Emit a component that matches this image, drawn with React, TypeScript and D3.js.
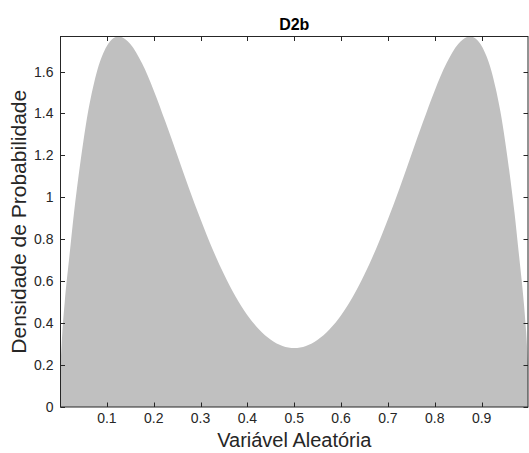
import React from "react";
import * as d3 from "d3";

const xValues = [
  0.001, 0.005, 0.01, 0.02, 0.03, 0.04, 0.05, 0.06, 0.07, 0.08, 0.09, 0.1, 0.11, 0.125, 0.14, 0.15,
  0.175, 0.2, 0.225, 0.25, 0.275, 0.3, 0.325, 0.35, 0.375, 0.4, 0.425, 0.45, 0.475, 0.5,
  0.525, 0.55, 0.575, 0.6, 0.625, 0.65, 0.675, 0.7, 0.725, 0.75, 0.775, 0.8, 0.825, 0.85,
  0.86, 0.875, 0.89, 0.9, 0.91, 0.92, 0.93, 0.94, 0.95, 0.96, 0.97, 0.98, 0.99, 0.995, 0.999,
];
const density = [
  0.2, 0.36, 0.5, 0.72, 0.93, 1.11, 1.27, 1.41, 1.52, 1.61, 1.675, 1.722, 1.752, 1.767, 1.753, 1.731,
  1.639, 1.51, 1.36, 1.203, 1.045, 0.895, 0.756, 0.633, 0.526, 0.438, 0.37, 0.321, 0.291, 0.281,
  0.291, 0.321, 0.37, 0.438, 0.526, 0.633, 0.756, 0.895, 1.045, 1.203, 1.36, 1.51, 1.639, 1.731,
  1.753, 1.767, 1.752, 1.722, 1.675, 1.61, 1.52, 1.41, 1.27, 1.11, 0.93, 0.72, 0.5, 0.36, 0.2,
];
const xTicks = [0.1, 0.2, 0.3, 0.4, 0.5, 0.6, 0.7, 0.8, 0.9];
const xTickLabels = ["0.1", "0.2", "0.3", "0.4", "0.5", "0.6", "0.7", "0.8", "0.9"];
const yTicks = [0, 0.2, 0.4, 0.6, 0.8, 1, 1.2, 1.4, 1.6];
const yTickLabels = ["0", "0.2", "0.4", "0.6", "0.8", "1", "1.2", "1.4", "1.6"];
const titleText = "D2b";
const xLabel = "Variável Aleatória";
const yLabel = "Densidade de Probabilidade";

const W = 529;
const H = 453;
const L = 60.5;
const R = 528;
const T = 36.5;
const B = 407;
const FONT = "'Liberation Sans', Arial, Helvetica, sans-serif";
const AX = "#262626";
const TL = 4.5;

export default function App() {
  const x = d3.scaleLinear().domain([0.001, 0.999]).range([L, R]);
  const y = d3.scaleLinear().domain([0, 1.767]).range([B, T]);
  const pts = xValues.map((v, i) => [v, density[i]] as [number, number]);
  const area = d3
    .area<[number, number]>()
    .x((d) => x(d[0]))
    .y0(y(0))
    .y1((d) => y(d[1]))
    .curve(d3.curveMonotoneX)(pts) as string;

  return (
    <svg
      width={W}
      height={H}
      style={{ position: "absolute", left: 0, top: 0, background: "#fff" }}
      fontFamily={FONT}
    >
      <path d={area} fill="#c0c0c0" stroke="none" />
      <rect x={L} y={T} width={R - L} height={B - T} fill="none" stroke={AX} strokeWidth={1} />
      {xTicks.map((t, i) => (
        <g key={"x" + i}>
          <line x1={Math.round(x(t)) + 0.5} x2={Math.round(x(t)) + 0.5} y1={B} y2={B - TL} stroke={AX} />
          <line x1={Math.round(x(t)) + 0.5} x2={Math.round(x(t)) + 0.5} y1={T} y2={T + TL} stroke={AX} />
          <text x={x(t)} y={B + 16} textAnchor="middle" fontSize={14} fill={AX}>
            {xTickLabels[i]}
          </text>
        </g>
      ))}
      {yTicks.map((t, i) => (
        <g key={"y" + i}>
          <line x1={L} x2={L + TL} y1={Math.round(y(t)) + 0.5} y2={Math.round(y(t)) + 0.5} stroke={AX} />
          <line x1={R} x2={R - TL} y1={Math.round(y(t)) + 0.5} y2={Math.round(y(t)) + 0.5} stroke={AX} />
          <text x={L - 7} y={y(t) + 5} textAnchor="end" fontSize={14} fill={AX}>
            {yTickLabels[i]}
          </text>
        </g>
      ))}
      <text x={(L + R) / 2} y={30} textAnchor="middle" fontSize={16} fontWeight="bold" fill="#000">
        {titleText}
      </text>
      <text x={(L + R) / 2} y={447} textAnchor="middle" fontSize={20} fill={AX}>
        {xLabel}
      </text>
      <text
        transform={`translate(26, ${(T + B) / 2}) rotate(-90)`}
        textAnchor="middle"
        fontSize={21}
        fill={AX}
      >
        {yLabel}
      </text>
    </svg>
  );
}
